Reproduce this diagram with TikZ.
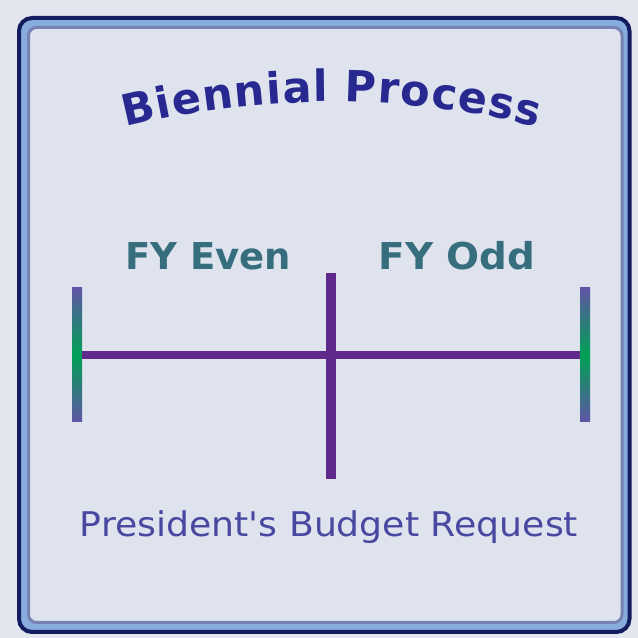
\documentclass[tikz,border=0pt]{standalone}
\usepackage{fontspec}
\setmainfont{DejaVu Sans}
\usetikzlibrary{decorations.text}
\definecolor{pagebg}{RGB}{226,230,238}
\definecolor{innerbg}{RGB}{222,227,238}
\definecolor{navy}{RGB}{18,28,95}
\definecolor{lightblue}{RGB}{135,172,222}
\definecolor{grayblue}{RGB}{120,130,180}
\definecolor{titlec}{RGB}{40,40,145}
\definecolor{fyc}{RGB}{55,110,125}
\definecolor{botc}{RGB}{72,72,160}
\definecolor{linec}{RGB}{95,42,140}
\definecolor{barend}{RGB}{95,85,165}
\definecolor{barmid}{RGB}{0,160,85}
\newfontfamily\titlefont{DejaVu Sans Bold}
\newfontfamily\botfont{DejaVu Sans}
\tikzset{
  endbar/.style={rectangle, draw=none, minimum width=10pt, minimum height=134pt, inner sep=0pt,
    top color=barend, bottom color=barend, middle color=barmid},
  midbar/.style={rectangle, fill=linec, draw=none, minimum width=10pt, minimum height=206pt, inner sep=0pt},
  fylabel/.style={anchor=base, text=fyc, font=\fontsize{37}{40}\selectfont\bfseries, inner sep=0pt},
  botlabel/.style={anchor=base, text=botc, font=\botfont\fontsize{34}{36}\selectfont, inner sep=0pt},
  conn/.style={draw=linec, line width=8pt}
}
\begin{document}
\begin{tikzpicture}[x=1pt,y=1pt]
\useasboundingbox (0,0) rectangle (638,638);
\fill[pagebg] (0,0) rectangle (638,638);
% frame
\draw[navy, line width=4pt, fill=lightblue, rounded corners=13pt] (19,6) rectangle (629.5,620);
\draw[grayblue, line width=3pt, fill=innerbg, rounded corners=8pt] (28.5,15.5) rectangle (622,610.5);
% title
\path[decoration={text along path, text={|\titlefont\fontsize{43}{45}\selectfont\color{titlec}|Biennial Process}, text align=fit to path}, decorate]
  (126,511) arc[start angle=104, end angle=76, radius=850pt];
% labels
\node[fylabel] (even) at (208,368) {FY Even};
\node[fylabel] (odd) at (457,368) {\scalebox{1.05}[1]{FY Odd}};
% bars
\node[endbar] (L) at (77,283) {};
\node[endbar] (R) at (585,283) {};
\node[midbar] (C) at (331,262) {};
\draw[conn] (L.east) -- (R.west);
\node[botlabel] (pbr) at (329,101) {\scalebox{1.065}[1]{President's Budget Request}};
\end{tikzpicture}
\end{document}
